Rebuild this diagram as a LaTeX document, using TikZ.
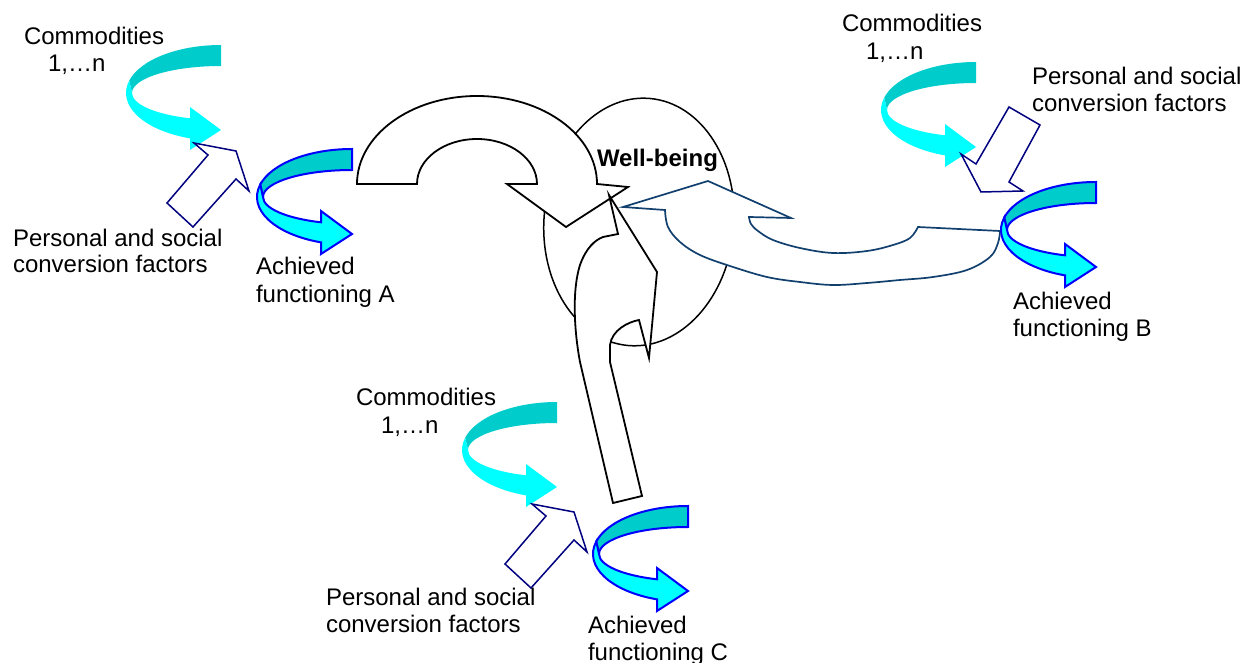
\documentclass[tikz,border=0pt]{standalone}
\usepackage{fontspec}
\setmainfont{Liberation Sans}
\definecolor{cdark}{HTML}{00CCCC}
\definecolor{clight}{HTML}{00FFFF}
\definecolor{abblue}{HTML}{0000FF}
\definecolor{pnavy}{HTML}{000080}
\definecolor{steel}{HTML}{11406F}
\tikzset{
  lbl/.style={anchor=base west, inner sep=0pt, outer sep=0pt, font=\fontsize{24}{27.5}\selectfont},
  wb/.style={lbl, font=\fontsize{24}{27.5}\selectfont\bfseries},
  ribbon/.pic={
    \path[pic actions, fill=cdark] (0,-48) arc[start angle=-90,end angle=-165,x radius=95,y radius=48]
       -- (-89,0) arc[start angle=180,end angle=270,x radius=89,y radius=27] -- cycle;
    \path[pic actions, fill=clight] (-165:95 and 48) arc[start angle=-165,end angle=-251,x radius=95,y radius=48]
       -- (-31,57) -- (0,37) -- (-31,14) -- (-31,25.3)
       arc[start angle=-249.6,end angle=-180,x radius=89,y radius=27] -- cycle;
  },
  achieved/.style={draw=abblue, line width=2pt, line join=miter},
  pers/.style={draw=pnavy, fill=white, line width=1.5pt, line join=miter},
  bigarrow/.style={draw=black, fill=white, line width=1.8pt, line join=miter},
  bluearrow/.style={draw=steel, fill=white, line width=1.7pt, line join=miter},
  wellell/.style={draw=black, fill=white, line width=1.5pt},
}
\begin{document}
\begin{tikzpicture}[x=1pt,y=-1pt]
\useasboundingbox (0,0) rectangle (1254,663);
\clip (0,0) rectangle (1254,663);

% well-being ellipse
\coordinate (wc) at (639,222);
\draw[wellell, rotate around={-5:(wc)}] (wc) ellipse[x radius=95, y radius=124];

% top big arrow (from A)
\draw[bigarrow] (357,184) arc[start angle=180,end angle=360,x radius=120,y radius=88]
  -- (628,187) -- (566,227) -- (507,184) -- (537,184)
  arc[start angle=0,end angle=-180,x radius=60,y radius=45] -- cycle;

% bottom big arrow (from C)
\draw[bigarrow] (613,503) -- (580,362) .. controls (574,330) and (572,290) .. (580,265)
  .. controls (586,248) and (595,240) .. (603,237) -- (618,234) -- (609,195)
  -- (657,272) -- (649,358) -- (639,320) .. controls (628,322) and (612,330) .. (610,345)
  -- (610,362) -- (642,496) -- cycle;

% blue big arrow (from B)
\draw[bluearrow] (623,207) -- (708,181) -- (791,218) -- (749,217)
  -- plot[smooth, tension=0.6] coordinates {(749,217) (751,224) (758,231) (773,240) (800,248) (833,253) (867,251) (893,245) (910,238) (918,227)}
  -- (1000,231)
  -- plot[smooth, tension=0.6] coordinates {(1000,231) (998,243) (990,257) (967,270) (933,277) (900,280) (867,283) (833,285) (800,282) (767,277) (730,266) (700,255) (680,242) (668,227) (665,210)}
  -- cycle;

% commodities ribbons
\pic (ca) at (221,93) {ribbon};
\pic (cb) at (976,110) {ribbon};
\pic (cc) at (557,450) {ribbon};

% achieved functioning ribbons
\pic[achieved] (aa) at (352,197) {ribbon};
\pic[achieved] (ab) at (1096,230) {ribbon};
\pic[achieved] (ac) at (688,554) {ribbon};

% personal and social conversion factor arrows
\draw[pers] (236,151) -- (194,143) -- (208,155) -- (167,203) -- (193,227) -- (236,179) -- (249,191) -- cycle;
\draw[pers] (574,512) -- (532,504) -- (546,516) -- (505,564) -- (531,588) -- (574,540) -- (587,552) -- cycle;
\draw[pers] (1009,107) -- (1040,125) -- (1009,182) -- (1023,191) -- (981,192) -- (961,154) -- (976,164) -- cycle;

% labels
\node[wb] (wbt) at (597,167) {Well-being};

\node[lbl] (ta1) at (24,45) {Commodities};
\node[lbl] (ta2) at (48,72) {1,…n};
\node[lbl] (pa1) at (13,247) {Personal and social};
\node[lbl] (pa2) at (13,273) {conversion factors};
\node[lbl] (fa1) at (256,275) {Achieved};
\node[lbl] (fa2) at (256,302) {functioning A};

\node[lbl] (tb1) at (842,32) {Commodities};
\node[lbl] (tb2) at (866,60) {1,…n};
\node[lbl] (pb1) at (1032,85) {Personal and social};
\node[lbl] (pb2) at (1032,112) {conversion factors};
\node[lbl] (fb1) at (1013,310) {Achieved};
\node[lbl] (fb2) at (1013,337) {functioning B};

\node[lbl] (tc1) at (356,405) {Commodities};
\node[lbl] (tc2) at (381,433) {1,…n};
\node[lbl] (pc1) at (326,605) {Personal and social};
\node[lbl] (pc2) at (326,632) {conversion factors};
\node[lbl] (fc1) at (588,633) {Achieved};
\node[lbl] (fc2) at (588,660) {functioning C};
\end{tikzpicture}
\end{document}
